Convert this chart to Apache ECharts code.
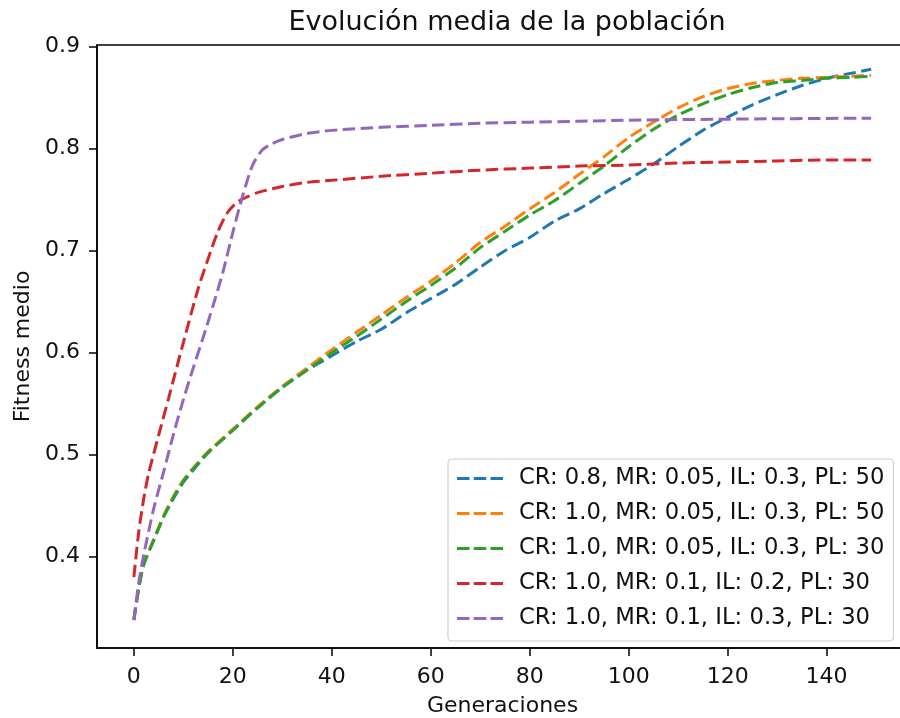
<!DOCTYPE html>
<html>
<head>
<meta charset="utf-8">
<title>Evolución media de la población</title>
<script src="https://cdn.jsdelivr.net/npm/echarts@6/dist/echarts.min.js"></script>
<style>
  html, body { margin: 0; padding: 0; background: #fff; }
  #chartDom { width: 900px; height: 718px; }
</style>
</head>
<body>
<div id="chartDom"></div>
<script>
// leyendas (orden de matplotlib)
const seriesNames = [
  "CR: 0.8, MR: 0.05, IL: 0.3, PL: 50",
  "CR: 1.0, MR: 0.05, IL: 0.3, PL: 50",
  "CR: 1.0, MR: 0.05, IL: 0.3, PL: 30",
  "CR: 1.0, MR: 0.1, IL: 0.2, PL: 30",
  "CR: 1.0, MR: 0.1, IL: 0.3, PL: 30",
];
const seriesColors = ["#1f77b4", "#ff7f0e", "#2ca02c", "#d62728", "#9467bd"];

// ticks de los ejes
const xTicks = [0, 20, 40, 60, 80, 100, 120, 140];
const yTicks = [0.4, 0.5, 0.6, 0.7, 0.8, 0.9];

// [generación, fitness medio]
const cr08mr005pl50 = [
  [0, 0.338], [1, 0.370], [2, 0.393], [4, 0.416], [6, 0.439], [8, 0.457],
  [10, 0.473], [12, 0.485], [15, 0.502], [20, 0.524], [25, 0.546], [30, 0.566],
  [35, 0.583], [40, 0.597], [45, 0.611], [50, 0.623], [55, 0.639], [60, 0.653],
  [65, 0.667], [70, 0.684], [75, 0.700], [80, 0.713], [85, 0.729], [90, 0.741],
  [95, 0.756], [100, 0.770], [105, 0.785], [110, 0.802], [115, 0.818], [120, 0.831],
  [125, 0.843], [130, 0.853], [135, 0.862], [140, 0.869], [145, 0.874], [149, 0.878],
];
const cr10mr005pl50 = [
  [0, 0.338], [1, 0.370], [2, 0.393], [4, 0.417], [6, 0.440], [8, 0.459],
  [10, 0.475], [12, 0.487], [15, 0.503], [20, 0.525], [25, 0.547], [30, 0.567],
  [35, 0.585], [40, 0.603], [45, 0.620], [50, 0.637], [55, 0.654], [60, 0.670],
  [65, 0.688], [70, 0.708], [75, 0.724], [80, 0.741], [85, 0.757], [90, 0.775],
  [95, 0.792], [100, 0.811], [105, 0.826], [110, 0.840], [115, 0.851], [120, 0.859],
  [125, 0.864], [130, 0.867], [135, 0.869], [140, 0.870], [145, 0.871], [149, 0.872],
];
const cr10mr005pl30 = [
  [0, 0.338], [1, 0.369], [2, 0.392], [4, 0.416], [6, 0.439], [8, 0.458],
  [10, 0.474], [12, 0.486], [15, 0.502], [20, 0.524], [25, 0.546], [30, 0.566],
  [35, 0.583], [40, 0.600], [45, 0.616], [50, 0.633], [55, 0.650], [60, 0.666],
  [65, 0.683], [70, 0.703], [75, 0.719], [80, 0.735], [85, 0.749], [90, 0.766],
  [95, 0.783], [100, 0.802], [105, 0.819], [110, 0.833], [115, 0.844], [120, 0.853],
  [125, 0.860], [130, 0.865], [135, 0.867], [140, 0.869], [145, 0.870], [149, 0.871],
];
const cr10mr01il02pl30 = [
  [0, 0.380], [1, 0.425], [2, 0.457], [3, 0.482], [5, 0.519], [7, 0.555],
  [10, 0.610], [13, 0.663], [15, 0.692], [17, 0.719], [19, 0.738], [21, 0.748],
  [23, 0.753], [25, 0.757], [30, 0.763], [35, 0.767], [40, 0.769], [50, 0.773],
  [60, 0.776], [70, 0.779], [80, 0.781], [90, 0.783], [100, 0.784], [110, 0.786],
  [120, 0.787], [130, 0.788], [140, 0.789], [149, 0.789],
];
const cr10mr01il03pl30 = [
  [0, 0.338], [1, 0.375], [2, 0.402], [4, 0.447], [6, 0.483], [8, 0.520],
  [10, 0.554], [12, 0.585], [14, 0.615], [16, 0.646], [18, 0.679], [20, 0.718],
  [22, 0.754], [24, 0.784], [26, 0.799], [28, 0.805], [30, 0.809], [35, 0.815],
  [40, 0.818], [50, 0.821], [60, 0.823], [70, 0.825], [80, 0.826], [90, 0.827],
  [100, 0.828], [120, 0.829], [149, 0.830],
];
const allData = [cr08mr005pl50, cr10mr005pl50, cr10mr005pl30, cr10mr01il02pl30, cr10mr01il03pl30];

const font = "DejaVu Sans";
// icono de leyenda: tres trazos, como en matplotlib
const dashIcon = "path://M0,0h12.5v3h-12.5z M16.75,0h12.5v3h-12.5z M33.5,0h12.5v3h-12.5z";

const myChart = echarts.init(document.getElementById("chartDom"), null, { renderer: "canvas" });

myChart.setOption({
  animation: false,
  backgroundColor: "#fff",
  textStyle: { fontFamily: font, color: "#111" },
  title: {
    text: "Evolución media de la población",
    left: 502,
    textAlign: "center",
    top: 4,
    textStyle: { fontFamily: font, fontSize: 27, fontWeight: "normal", color: "#111" },
  },
  grid: {
    left: 97,
    top: 45,
    right: -8,
    bottom: 70,
    outerBoundsMode: "none",
    containLabel: false,
    show: true,
    borderColor: "#000",
    borderWidth: 1.5,
    backgroundColor: "transparent",
  },
  legend: {
    orient: "vertical",
    left: 448,
    top: 459,
    padding: [8, 9, 11, 9],
    icon: dashIcon,
    itemWidth: 46,
    itemHeight: 3,
    itemGap: 12,
    backgroundColor: "rgba(255,255,255,0.85)",
    borderColor: "#d0d0d0",
    borderWidth: 1.2,
    borderRadius: 4,
    textStyle: {
      fontFamily: font,
      fontSize: 22.7,
      lineHeight: 22,
      color: "#111",
      padding: [0, 0, 0, 11],
    },
    data: seriesNames,
  },
  xAxis: {
    type: "value",
    min: -7.45,
    max: 156.45,
    name: "Generaciones",
    nameLocation: "middle",
    nameGap: 47,
    nameTextStyle: { fontFamily: font, fontSize: 22, color: "#111" },
    splitLine: { show: false },
    axisLine: { show: true, onZero: false, lineStyle: { color: "#000", width: 1.5 } },
    axisTick: { show: true, length: 8, customValues: xTicks, lineStyle: { color: "#000", width: 1.5 } },
    axisLabel: {
      customValues: xTicks,
      margin: 18,
      fontFamily: font,
      fontSize: 22,
      color: "#111",
      formatter: (v) => String(v),
    },
  },
  yAxis: {
    type: "value",
    min: 0.3105,
    max: 0.9017,
    name: "Fitness medio",
    nameLocation: "middle",
    nameGap: 62,
    nameTextStyle: { fontFamily: font, fontSize: 22, color: "#111" },
    splitLine: { show: false },
    axisLine: { show: true, onZero: false, lineStyle: { color: "#000", width: 1.5 } },
    axisTick: { show: true, length: 8, customValues: yTicks, lineStyle: { color: "#000", width: 1.5 } },
    axisLabel: {
      customValues: yTicks,
      margin: 17,
      fontFamily: font,
      fontSize: 22,
      color: "#111",
      formatter: (v) => v.toFixed(1),
    },
  },
  series: seriesNames.map((name, i) => ({
    name: name,
    type: "line",
    data: allData[i],
    showSymbol: false,
    symbol: "none",
    smooth: 0.25,
    color: seriesColors[i],
    itemStyle: { color: seriesColors[i] },
    lineStyle: { color: seriesColors[i], width: 3, type: [12.5, 5.4] },
    z: 2 + i,
  })),
});
</script>
</body>
</html>
